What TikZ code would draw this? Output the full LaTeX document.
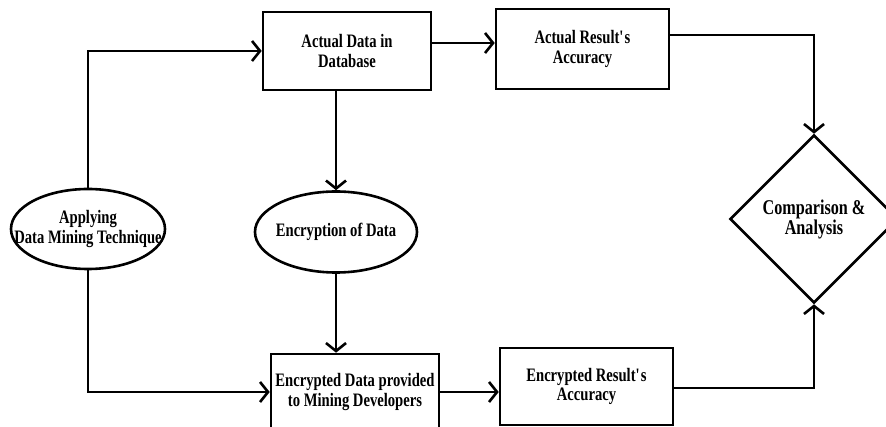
\documentclass[tikz,border=0pt]{standalone}
\usepackage{fontspec}
\setmainfont[FakeStretch=0.77]{Liberation Serif}
\usetikzlibrary{arrows.meta,shapes.geometric}
\tikzset{
  every node/.style={font=\fontsize{19}{19.5}\selectfont\bfseries, align=center},
  box/.style={draw, line width=2.6pt, rectangle, inner sep=0pt},
  oval/.style={draw, line width=2.6pt, ellipse, inner sep=0pt},
  dec/.style={draw, line width=2.6pt, diamond, aspect=1, inner sep=0pt, minimum size=168pt,
              font=\fontsize{21}{20}\selectfont\bfseries},
  conn/.style={line width=2.6pt},
  arr/.style={conn, -{Straight Barb[length=8pt,width=20pt,line width=2.6pt]}}
}
\begin{document}
\begin{tikzpicture}[x=1pt,y=-1pt]
\useasboundingbox (0,0) rectangle (886,427);
\fill[white] (0,0) rectangle (886,427);
\begin{scope}
\clip (0,0) rectangle (886,427);
\node[box, minimum width=168pt, minimum height=78pt] (db) at (347,51) {Actual Data in\\Database};
\node[box, minimum width=173pt, minimum height=80pt] (ara) at (582.5,49) {Actual Result\textquotesingle s\\Accuracy};
\node[oval, minimum width=154pt, minimum height=80pt] (app) at (88,229) {};
\node (appt) at (app.center) {Applying\\Data Mining Technique};
\node[oval, minimum width=162pt, minimum height=81pt] (enc) at (336,232) {};
\node (enct) at (enc.center) {Encryption of Data};
\node[box, minimum width=168pt, minimum height=76pt] (edp) at (355,392) {Encrypted Data provided\\to Mining Developers};
\node[box, minimum width=173pt, minimum height=77pt] (era) at (586.5,386.5) {Encrypted Result\textquotesingle s\\Accuracy};
\node[dec] (dia) at (814,219) {Comparison \&\\Analysis};

\draw[arr] (app.north) |- (db.west);
\draw[arr] (db.east |- 0,43) -- (ara.west |- 0,43);
\draw[arr] (ara.east |- 0,35) -| (dia.north);
\draw[arr] (enc.north |- db.south) -- (enc.north);
\draw[arr] (enc.south) -- (enc.south |- edp.north);
\draw[arr] (app.south) |- (edp.west);
\draw[arr] (edp.east) -- (era.west |- edp.east);
\draw[arr] (era.east |- 0,388) -| (dia.south);
\end{scope}
\end{tikzpicture}
\end{document}
